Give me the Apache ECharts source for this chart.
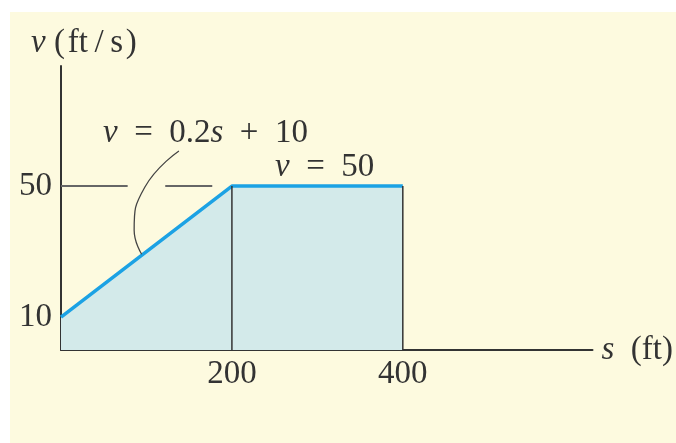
<!DOCTYPE html>
<html>
<head>
<meta charset="utf-8">
<script src="https://cdn.jsdelivr.net/npm/echarts@6/dist/echarts.min.js"></script>
<style>
  html, body { margin: 0; padding: 0; background: #fff; }
  #chart { width: 676px; height: 443px; }
</style>
</head>
<body>
<div id="chart"></div>
<script>
// velocity profile v(s)
const sPoints = [0, 200, 400];
const vPoints = [10, 50, 50];
const dropLines = [200, 400];
// gray guide at v = 50, broken where the leader crosses
const guideLevel = 50;
const guideSegments = [[0, 78], [122, 177]];
// leader line from the equation label to the sloped line
const leaderCurve = [[138, 60.7], [98.2, 49.7], [85.6, 36.5], [94.4, 29.2]];
const xTicks = [200, 400];
const yTicks = [10, 50];

const serif = "'Liberation Serif', 'DejaVu Serif', serif";
const ink = "#333";
const fs = 33;

const chart = echarts.init(document.getElementById("chart"));

const profile = sPoints.map((s, i) => [s, vPoints[i]]);
const guideData = [];
guideSegments.forEach((seg, i) => {
  if (i > 0) guideData.push([null, "-"]);
  guideData.push([seg[0], guideLevel], [seg[1], guideLevel]);
});
const dropSeries = dropLines.map(s => ({
  type: "line", symbol: "none", z: 3,
  data: [[s, 0], [s, vPoints[sPoints.indexOf(s)]]],
  lineStyle: { color: ink, width: 1.5 }
}));

const richItalic = { i: { fontStyle: "italic", fontFamily: serif, fontSize: fs, fill: ink, color: ink } };
function label(text, x, y) {
  return {
    type: "text", x: x, y: y,
    style: { text: text, font: fs + "px " + serif, fill: ink, verticalAlign: "middle", rich: richItalic }
  };
}

chart.setOption({
  backgroundColor: "#fff",
  animation: false,
  graphic: [
    { type: "rect", z: -10, shape: { x: 10, y: 12, width: 666, height: 431 }, style: { fill: "#fdfadf" } },
    label("{i|v} (\u200Aft\u2009/\u2009s\u200A)", 31, 43),
    label("{i|v}  =  0.2{i|s}  +  10", 103, 133),
    label("{i|v}  =  50", 275, 167)
  ],
  grid: { left: 61, right: 83, top: 66, bottom: 93 },
  xAxis: {
    type: "value", min: 0, max: 622, interval: 200,
    name: "{i|s}  (ft)", nameLocation: "end", nameGap: 9,
    nameTextStyle: {
      fontFamily: serif, fontSize: fs, color: ink, verticalAlign: "middle",
      rich: richItalic
    },
    axisLine: { lineStyle: { color: ink, width: 2 } },
    axisTick: { show: false },
    splitLine: { show: false },
    axisLabel: {
      margin: 8, fontFamily: serif, fontSize: fs, color: ink,
      formatter: v => xTicks.includes(v) ? String(v) : ""
    }
  },
  yAxis: {
    type: "value", min: 0, max: 86.6, interval: 10,
    axisLine: { show: true, lineStyle: { color: ink, width: 2 } },
    axisTick: { show: false },
    splitLine: { show: false },
    axisLabel: {
      margin: 9, fontFamily: serif, fontSize: fs, color: ink,
      formatter: v => yTicks.includes(v) ? String(v) : ""
    }
  },
  series: [
    {
      type: "line", data: profile, symbol: "none", z: 2,
      lineStyle: { color: "#1ca2e4", width: 3.5 },
      areaStyle: { color: "#d3eaea", opacity: 1 }
    },
    ...dropSeries,
    {
      type: "line", data: guideData, symbol: "none", z: 2, connectNulls: false,
      lineStyle: { color: "#666", width: 2 }
    },
    {
      type: "line", data: leaderCurve, symbol: "none", smooth: 0.5, z: 2,
      lineStyle: { color: "#444", width: 1.3 }
    }
  ]
});
</script>
</body>
</html>
